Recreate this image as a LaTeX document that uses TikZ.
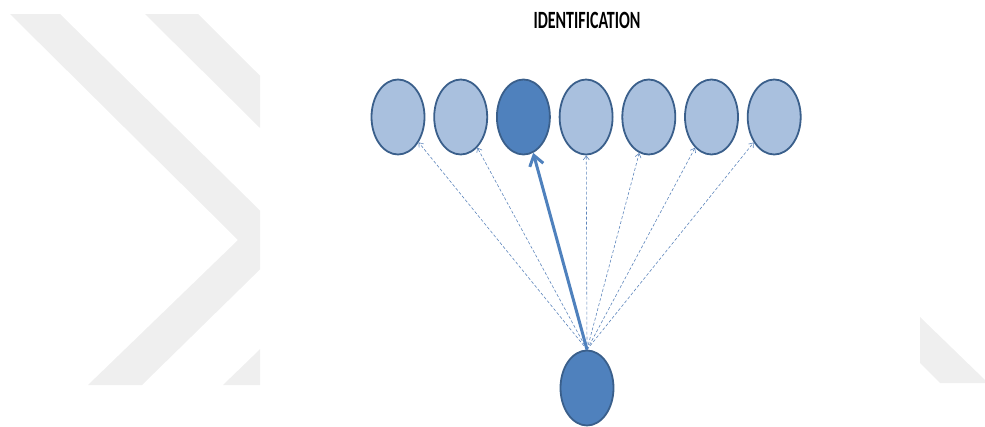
\documentclass[tikz,border=0pt]{standalone}
\usepackage{fontspec}
\setmainfont{Carlito}
\usepackage{xcolor}
\usetikzlibrary{positioning, arrows.meta, shapes.geometric}

\definecolor{lightunit}{HTML}{A9C0DE}
\definecolor{darkunit}{HTML}{4F81BD}
\definecolor{unitline}{HTML}{3A5F8B}
\definecolor{linkline}{HTML}{5E86BC}
\definecolor{wmgray}{HTML}{EFEFEF}

\begin{document}
\begin{tikzpicture}[
      x=1pt, y=-1pt,
      node distance=7.9pt,
      unit/.style={ellipse, draw=unitline, line width=1.8pt, inner sep=0pt, minimum width=53pt, minimum height=75pt},
      cand/.style={unit, fill=lightunit},
      hit/.style={unit, fill=darkunit},
      arr/.style={draw=darkunit, line width=3pt, -{Straight Barb[length=10pt, width=14pt]}},
      dasharr/.style={draw=linkline, line width=0.6pt, dash pattern=on 3pt off 2pt, -{Straight Barb[length=4pt, width=6pt]}}
    ]
    \useasboundingbox (0,0) rectangle (985,426);
    % Watermark
    \begin{scope}
      \clip (0,14) rectangle (260,385);
      \fill[wmgray] (10,14) -- (60,14) -- (290,240) -- (142,385) -- (88,385) -- (238,240) -- cycle;
      \fill[wmgray] (145,14) -- (198,14) -- (425,240) -- (277,385) -- (223,385) -- (373,240) -- cycle;
    \end{scope}
    \fill[wmgray] (920,317) -- (985,380) -- (985,383) -- (940,383) -- (920,363) -- cycle;

    % Title
    \node[font=\bfseries\fontsize{16}{16}\selectfont, yscale=1.55, transform shape] (title) at (587,20) {IDENTIFICATION};

    % Nodes
    \node[cand] (c1) at (398,117) {};
    \node[cand, right=of c1] (c2) {};
    \node[hit, right=of c2] (c3) {};
    \node[cand, right=of c3] (c4) {};
    \node[cand, right=of c4] (c5) {};
    \node[cand, right=of c5] (c6) {};
    \node[cand, right=of c6] (c7) {};

    \node[hit] (probe) at (587,388) {};

    % Edges
    \foreach \i in {1,2,4,5,6,7}
      \draw[dasharr] (probe.north) -- (c\i);
    \draw[arr] (probe.north) -- (c3);
  \end{tikzpicture}
\end{document}
